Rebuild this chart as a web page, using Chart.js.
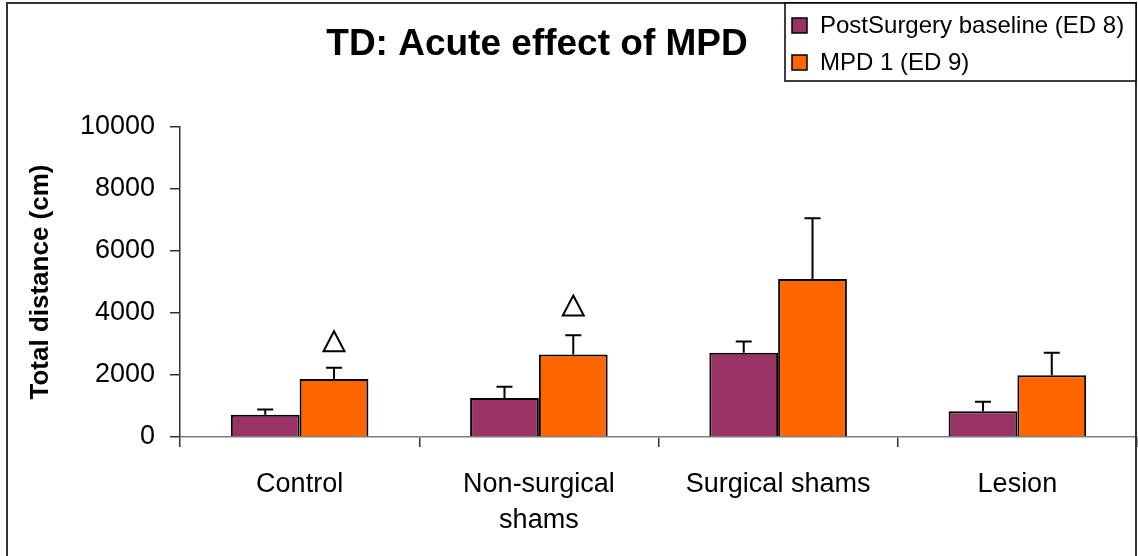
<!DOCTYPE html>
<html>
<head>
<meta charset="utf-8">
<script src="https://cdn.jsdelivr.net/npm/chart.js@4/dist/chart.umd.min.js"></script>
<style>
  html, body { margin: 0; padding: 0; background: #fff; }
  #wrap { width: 1138px; height: 556px; position: relative; }
</style>
</head>
<body>
<div id="wrap"><canvas id="chart" width="1138" height="556"></canvas></div>
<script>
var categories = ['Control', ['Non-surgical', 'shams'], 'Surgical shams', 'Lesion'];
var baseline = [720, 1260, 2720, 830];
var baselineErr = [170, 360, 360, 310];
var mpd = [1870, 2660, 5100, 1990];
var mpdErr = [360, 620, 1960, 730];
// triangle markers (significance), placed above the MPD bars
var markers = [3090, 4240, null, null];
var yTicks = [0, 2000, 4000, 6000, 8000, 10000];

var FONT = '"Liberation Sans", Arial, Helvetica, sans-serif';

(function() {
  var errors = [baselineErr, mpdErr];

  var decorPlugin = {
    id: 'decor',
    beforeDraw: function(chart) {
      var ctx = chart.ctx;
      ctx.save();
      ctx.fillStyle = '#fff';
      ctx.fillRect(0, 0, chart.width, chart.height);
      ctx.restore();
    },
    afterDatasetsDraw: function(chart) {
      var ctx = chart.ctx;
      var y = chart.scales.y;
      ctx.save();
      ctx.strokeStyle = '#000';
      ctx.lineWidth = 2;
      // error bars (upper only)
      chart.data.datasets.forEach(function(ds, di) {
        var meta = chart.getDatasetMeta(di);
        meta.data.forEach(function(bar, i) {
          var top = y.getPixelForValue(ds.data[i]);
          var end = y.getPixelForValue(ds.data[i] + errors[di][i]);
          ctx.beginPath();
          ctx.moveTo(bar.x, top);
          ctx.lineTo(bar.x, end);
          ctx.moveTo(bar.x - 8, end);
          ctx.lineTo(bar.x + 8, end);
          ctx.stroke();
        });
      });
      // triangles
      var meta1 = chart.getDatasetMeta(1);
      markers.forEach(function(v, i) {
        if (v === null) return;
        var cx = meta1.data[i].x;
        var cy = y.getPixelForValue(v);
        ctx.beginPath();
        ctx.moveTo(cx, cy - 10);
        ctx.lineTo(cx + 10.5, cy + 10);
        ctx.lineTo(cx - 10.5, cy + 10);
        ctx.closePath();
        ctx.stroke();
      });
      ctx.restore();
    },
    afterDraw: function(chart) {
      var ctx = chart.ctx;
      ctx.save();
      // outer frame
      ctx.strokeStyle = '#333';
      ctx.lineWidth = 2;
      ctx.strokeRect(7, 3, 1129, 620);
      // title
      ctx.fillStyle = '#000';
      ctx.font = 'bold 37px ' + FONT;
      ctx.textAlign = 'center';
      ctx.textBaseline = 'middle';
      ctx.fillText('TD: Acute effect of MPD', 537, 45);
      // legend box
      ctx.fillStyle = '#fff';
      ctx.fillRect(785, 3, 351, 78);
      ctx.strokeStyle = '#000';
      ctx.lineWidth = 1.5;
      ctx.strokeRect(785, 3, 351, 78);
      ctx.font = '24px ' + FONT;
      ctx.textAlign = 'left';
      var rows = [25, 62];
      chart.data.datasets.forEach(function(ds, di) {
        var ry = rows[di];
        ctx.fillStyle = ds.backgroundColor;
        ctx.fillRect(792, ry - 7, 15, 15);
        ctx.strokeStyle = '#000';
        ctx.lineWidth = 1.5;
        ctx.strokeRect(792, ry - 7, 15, 15);
        ctx.fillStyle = '#000';
        ctx.fillText(ds.label, 820, ry + 1);
      });
      ctx.restore();
    }
  };

  new Chart(document.getElementById('chart').getContext('2d'), {
    type: 'bar',
    data: {
      labels: categories,
      datasets: [{
        label: 'PostSurgery baseline (ED 8)',
        data: baseline,
        backgroundColor: '#993366',
        borderColor: '#000',
        borderWidth: 2,
        categoryPercentage: 0.575,
        barPercentage: 1
      }, {
        label: 'MPD 1 (ED 9)',
        data: mpd,
        backgroundColor: '#FF6600',
        borderColor: '#000',
        borderWidth: 2,
        categoryPercentage: 0.575,
        barPercentage: 1
      }]
    },
    options: {
      responsive: false,
      animation: false,
      layout: { padding: { top: 127, right: 1, left: 0, bottom: 0 } },
      plugins: {
        legend: { display: false },
        title: { display: false },
        tooltip: { enabled: false }
      },
      scales: {
        x: {
          offset: true,
          afterFit: function(scale) { scale.height = 119; },
          border: { display: true, color: '#808080', width: 1.5 },
          grid: { offset: true, drawOnChartArea: false, drawTicks: true, tickLength: 10, color: '#333', lineWidth: 1.5 },
          ticks: {
            color: '#000',
            padding: 20,
            maxRotation: 0,
            autoSkip: false,
            font: { family: FONT, size: 27, lineHeight: 1.33 }
          }
        },
        y: {
          min: 0,
          max: 10000,
          afterFit: function(scale) { scale.width = 180; },
          afterBuildTicks: function(scale) {
            scale.ticks = yTicks.map(function(v) { return { value: v }; });
          },
          border: { display: true, color: '#333', width: 1.5 },
          grid: { drawOnChartArea: false, drawTicks: true, tickLength: 10, color: '#333', lineWidth: 1.5 },
          ticks: {
            color: '#000',
            padding: 15,
            font: { family: FONT, size: 27 },
            callback: function(v) { return String(v); }
          },
          title: {
            display: true,
            text: 'Total distance (cm)',
            color: '#000',
            padding: { top: 25, bottom: 0 },
            font: { family: FONT, size: 26, weight: 'bold' }
          }
        }
      }
    },
    plugins: [decorPlugin]
  });
})();
</script>
</body>
</html>
